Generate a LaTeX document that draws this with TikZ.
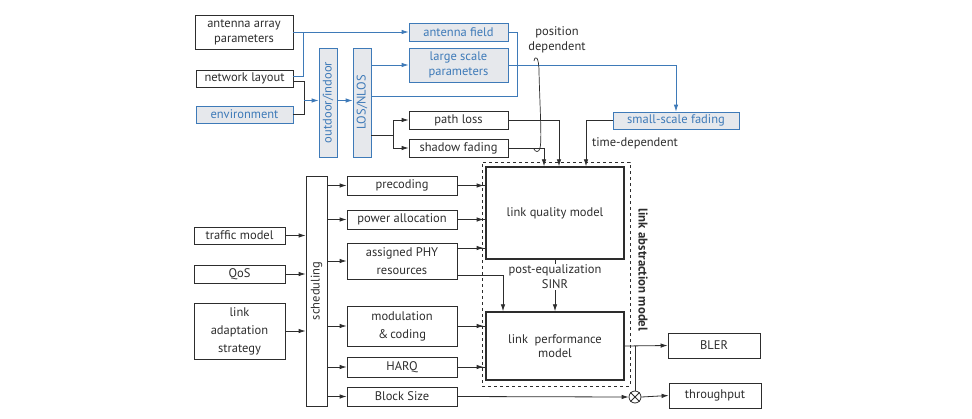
\documentclass[tikz,border=0pt]{standalone}
\usepackage{fontspec}
\setmainfont{PT Sans}
\usetikzlibrary{arrows.meta,calc}
\definecolor{bl}{RGB}{62,122,184}
\definecolor{bfill}{RGB}{230,232,236}
\definecolor{ln}{RGB}{45,45,45}
\newcommand{\fs}{\fontsize{12.5}{15}\selectfont}
\newcommand{\fsw}{\fontsize{12.5}{18}\selectfont}
\tikzset{
  bbox/.style={draw=ln, line width=0.8pt, inner sep=0pt, align=center, font=\fs, text=ln},
  bluebox/.style={bbox, draw=bl, fill=bfill, text=bl},
  bigbox/.style={bbox, line width=1.4pt},
  conn/.style={draw=ln, line width=0.8pt},
  bconn/.style={draw=bl, line width=0.8pt},
  arr/.style={-{Latex[length=7pt,width=4.5pt]}},
  lbl/.style={font=\fs, text=ln, align=center, inner sep=1pt}
}
\begin{document}
\begin{tikzpicture}[x=1pt,y=-1pt]
\useasboundingbox (0,0) rectangle (972,418);
% top section
\node[bbox, minimum width=98, minimum height=34] (aap) at (244,32) {antenna array\\parameters};
\node[bbox, minimum width=97, minimum height=17] (nl) at (244.5,78.5) {network layout};
\node[bluebox, minimum width=97, minimum height=17] (env) at (244.5,114.5) {environment};
\node[bluebox, minimum width=18, minimum height=109] (oi) at (328,102.5) {};
\node[lbl, rotate=90, text=bl] (oit) at (oi.center) {outdoor/indoor};
\node[bluebox, minimum width=18, minimum height=109] (los) at (362,102.5) {};
\node[lbl, rotate=90, text=bl] (lost) at (los.center) {LOS/NLOS};
\node[bluebox, minimum width=99, minimum height=18] (af) at (458.5,32) {antenna field};
\node[bluebox, minimum width=99, minimum height=34] (lsp) at (458.5,65) {large scale\\parameters};
\node[bbox, minimum width=99, minimum height=18] (pl) at (458.5,120) {path loss};
\node[bbox, minimum width=99, minimum height=18] (sf) at (458.5,148) {shadow fading};
\node[bluebox, minimum width=126, minimum height=17] (ssf) at (676,120.5) {small-scale fading};
\node[lbl] (posd) at (557,39.5) {position\\dependent};
\node[lbl] (timed) at (635,143.5) {time-dependent};

% link abstraction
\node[draw=ln, dashed, line width=0.8pt, minimum width=148, minimum height=224, inner sep=0pt] (lam) at (556,274) {};
\node[bigbox, minimum width=138, minimum height=92] (lqm) at (555,213) {link quality model};
\node[bigbox, minimum width=138, minimum height=68, font=\fontsize{12.5}{14}\selectfont] (lpm) at (555,346) {link\ \ performance\\model};
\node[lbl, rotate=-90, font=\fontsize{12.8}{15}\selectfont\bfseries] (lamt) at (643,270) {link abstraction model};

% scheduling section
\node[bbox, minimum width=21, minimum height=230] (sch) at (316.5,291) {};
\node[lbl, rotate=90] (scht) at (sch.center) {scheduling};
\node[bbox, minimum width=110, minimum height=19] (prec) at (402,185.5) {precoding};
\node[bbox, minimum width=110, minimum height=19] (pa) at (402,219.5) {power allocation};
\node[bbox, minimum width=110, minimum height=36, font=\fsw] (phy) at (402,261) {assigned PHY\\resources};
\node[bbox, minimum width=110, minimum height=40, font=\fsw] (mc) at (402,326) {modulation\\\&\,coding};
\node[bbox, minimum width=110, minimum height=20] (harq) at (402,367) {HARQ};
\node[bbox, minimum width=110, minimum height=19] (bs) at (402,396.5) {Block Size};
\node[bbox, minimum width=91, minimum height=17] (tm) at (239.5,235.5) {traffic model};
\node[bbox, minimum width=91, minimum height=18] (qos) at (239.5,274) {QoS};
\node[bbox, minimum width=91, minimum height=56, font=\fsw] (las) at (239.5,331) {link\\adaptation\\strategy};
\node[bbox, minimum width=92, minimum height=25] (bler) at (714,345.5) {BLER};
\node[bbox, minimum width=92, minimum height=25] (tp) at (715,395.5) {throughput};
\node[draw=ln, line width=0.8pt, circle, minimum size=12, inner sep=0pt] (mul) at (635,397) {};
\draw[conn] (mul.north west) -- (mul.south east) (mul.north east) -- (mul.south west);

% top connectors
\draw[bconn, arr] (aap.east) -- (af.west);
\coordinate (j1) at (303,32);
\draw[bconn] (293,76) -| (j1);
\coordinate (j2) at (304,100.5);
\draw[conn] (293,81) -| (j2);
\draw[conn] (env.east) -| (j2);
\draw[bconn, arr] (j2) -- (oi.west |- j2);
\draw[bconn, arr] (oi.east |- j2) -- (los.west |- j2);
\draw[bconn, arr] (los.east |- lsp.west) -- (lsp.west);
\draw[bconn] (af.east) -- (517,32) -- (517,96) -- (los.east |- 0,96);
\draw[bconn, arr] (lsp.east) -| (ssf.north);
\coordinate (j3) at (393,135);
\draw[conn] (los.east |- j3) -- (j3);
\draw[conn, arr] (j3) |- (pl.west);
\draw[conn, arr] (j3) |- (sf.west);
\draw[conn, arr] (pl.east) -| (lqm.north -| 559,0);
\draw[conn, arr] (sf.east) -| (lqm.north -| 544,0);
\draw[conn, arr] (ssf.west) -| (lqm.north -| 586,0);
\draw[line width=0.7pt, draw=ln] (534,61) .. controls (535,55) and (539,56) .. (539,72) .. controls (540,110) and (542,140) .. (540,148) .. controls (539,153) and (535,152) .. (534,149);

% scheduling connectors
\draw[conn, arr] (tm.east) -- (sch.west |- tm.east);
\draw[conn, arr] (qos.east) -- (sch.west |- qos.east);
\draw[conn, arr] (las.east) -- (sch.west |- las.east);
\foreach \n in {prec,pa,phy,mc,harq,bs} {
  \draw[conn, arr] (sch.east |- \n.west) -- (\n.west);
}
% inputs into the link abstraction model: arrow tips sit on the dashed border
\foreach \src/\dst/\yy in {prec/lqm/185.5, pa/lqm/219.5, phy/lqm/248, mc/lpm/326, harq/lpm/367} {
  \draw[conn] (\src.east |- 0,\yy) -- (\dst.west |- 0,\yy);
  \draw[conn, arr] (\src.east |- 0,\yy) -- ($(lam.west |- 0,\yy)+(2,0)$);
}
\draw[conn, arr] (phy.east |- 0,275) -| (lpm.north -| 503,0);
\draw[conn, arr] (lqm.south) -- (lpm.north);
\node[lbl, fill=white, inner sep=1pt] (sinr) at (555,277) {post-equalization\\SINR};
\draw[conn, arr] (bs.east) -- (mul.west);
\coordinate (j4) at (635,346);
\draw[conn, arr] (lpm.east) -- (bler.west);
\draw[conn] (j4) -- (mul.north);
\draw[conn, arr] (mul.east) -- (tp.west);
\end{tikzpicture}
\end{document}
